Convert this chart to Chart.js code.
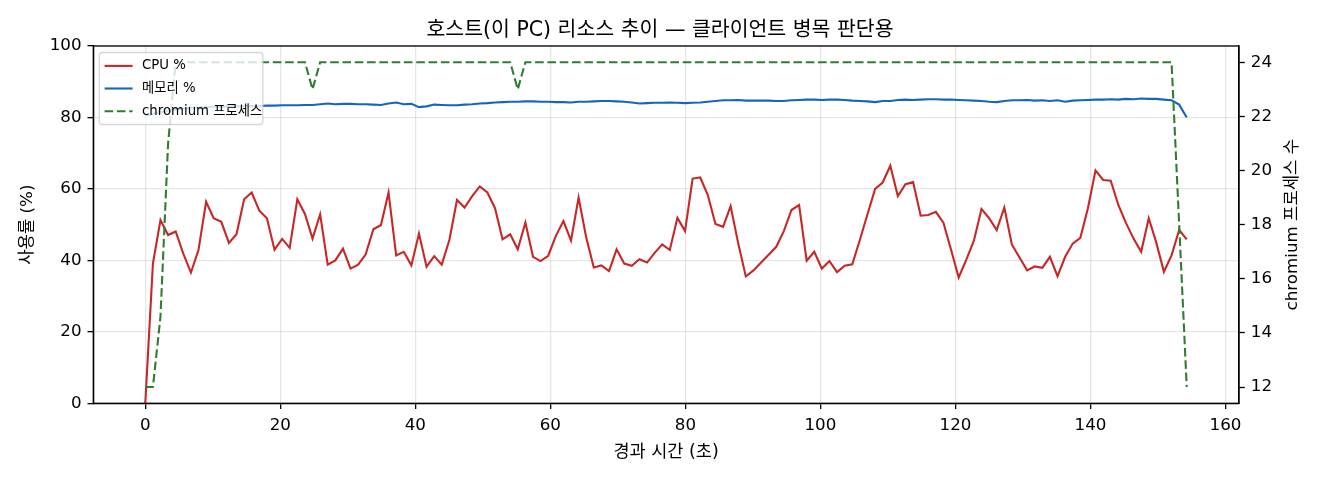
<!DOCTYPE html>
<html>
<head>
<meta charset="utf-8">
<script src="https://cdn.jsdelivr.net/npm/chart.js@4/dist/chart.umd.min.js"></script>
<style>
  html, body { margin: 0; padding: 0; background: #fff; }
  #wrap { width: 1320px; height: 480px; }
</style>
</head>
<body>
<div id="wrap"><canvas id="c" width="1320" height="480"></canvas></div>
<script>
// ---- data ----
const chartTitle = '호스트(이 PC) 리소스 추이 — 클라이언트 병목 판단용';
const xAxisLabel = '경과 시간 (초)';
const yAxisLabel = '사용률 (%)';
const y1AxisLabel = 'chromium 프로세스 수';
const seriesNames = ['CPU %', '메모리 %', 'chromium 프로세스'];

const times = [
  0, 1.13, 2.25, 3.38, 4.50, 5.63, 6.76, 7.88, 9.01, 10.13,
  11.26, 12.39, 13.51, 14.64, 15.76, 16.89, 18.02, 19.14, 20.27, 21.39,
  22.52, 23.65, 24.77, 25.90, 27.02, 28.15, 29.28, 30.40, 31.53, 32.65,
  33.78, 34.91, 36.03, 37.16, 38.28, 39.41, 40.54, 41.66, 42.79, 43.91,
  45.04, 46.17, 47.29, 48.42, 49.54, 50.67, 51.80, 52.92, 54.05, 55.17,
  56.30, 57.43, 58.55, 59.68, 60.80, 61.93, 63.06, 64.18, 65.31, 66.43,
  67.56, 68.69, 69.81, 70.94, 72.06, 73.19, 74.32, 75.44, 76.57, 77.69,
  78.82, 79.95, 81.07, 82.20, 83.32, 84.45, 85.58, 86.70, 87.83, 88.95,
  90.08, 91.21, 92.33, 93.46, 94.58, 95.71, 96.84, 97.96, 99.09, 100.21,
  101.34, 102.47, 103.59, 104.72, 105.84, 106.97, 108.10, 109.22, 110.35, 111.47,
  112.60, 113.73, 114.85, 115.98, 117.10, 118.23, 119.36, 120.48, 121.61, 122.73,
  123.86, 124.99, 126.11, 127.24, 128.36, 129.49, 130.62, 131.74, 132.87, 133.99,
  135.12, 136.25, 137.37, 138.50, 139.62, 140.75, 141.88, 143.00, 144.13, 145.25,
  146.38, 147.51, 148.63, 149.76, 150.88, 152.01, 153.14, 154.26
];

const cpuPct = [
  0, 39.1, 51.3, 47.1, 48.1, 41.9, 36.6, 42.9, 56.4, 51.8,
  50.8, 44.9, 47.3, 57.1, 59.0, 53.9, 51.8, 43.0, 46.0, 43.5,
  57.1, 53.0, 46.1, 52.9, 38.8, 40.0, 43.3, 37.7, 38.8, 41.7,
  48.7, 49.9, 59.0, 41.4, 42.4, 38.6, 47.5, 38.2, 41.2, 38.8,
  45.7, 56.9, 54.8, 58.0, 60.7, 59.0, 54.6, 45.9, 47.3, 43.1,
  50.6, 41.0, 39.8, 41.3, 46.8, 51.0, 45.5, 57.6, 46.4, 38.0,
  38.6, 37.0, 43.1, 39.1, 38.5, 40.3, 39.4, 42.1, 44.5, 42.9,
  51.9, 48.2, 62.9, 63.2, 58.3, 50.2, 49.4, 55.2, 44.7, 35.5,
  37.2, 39.4, 41.6, 43.8, 48.2, 54.1, 55.5, 39.9, 42.4, 37.7,
  39.8, 36.7, 38.5, 38.9, 45.7, 52.9, 60.0, 61.8, 66.5, 58.0,
  61.3, 61.9, 52.5, 52.7, 53.6, 50.5, 42.9, 35.2, 40.2, 45.5,
  54.4, 51.8, 48.5, 54.8, 44.4, 40.8, 37.2, 38.3, 37.9, 41.0,
  35.6, 41.0, 44.7, 46.3, 54.6, 65.2, 62.5, 62.3, 55.5, 50.5,
  46.1, 42.4, 51.8, 44.9, 36.8, 41.4, 48.5, 45.9
];

const memPct = [
  80.5, 81.0, 81.5, 81.9, 82.2, 82.5, 82.7, 82.8, 82.9, 83.0,
  83.0, 83.1, 83.1, 83.2, 83.2, 83.2, 83.3, 83.3, 83.4, 83.4,
  83.4, 83.5, 83.5, 83.7, 83.9, 83.7, 83.8, 83.8, 83.7, 83.7,
  83.6, 83.5, 83.9, 84.2, 83.7, 83.8, 82.9, 83.1, 83.6, 83.5,
  83.4, 83.4, 83.6, 83.7, 83.9, 84.0, 84.2, 84.3, 84.4, 84.4,
  84.5, 84.5, 84.4, 84.4, 84.3, 84.3, 84.2, 84.4, 84.4, 84.5,
  84.6, 84.6, 84.5, 84.4, 84.2, 83.9, 84.0, 84.1, 84.1, 84.2,
  84.1, 84.0, 84.1, 84.2, 84.4, 84.6, 84.8, 84.8, 84.9, 84.7,
  84.7, 84.7, 84.7, 84.6, 84.6, 84.8, 84.9, 85.0, 85.0, 84.9,
  85.0, 85.0, 84.9, 84.7, 84.6, 84.5, 84.3, 84.6, 84.6, 84.9,
  85.0, 84.9, 85.0, 85.1, 85.1, 85.0, 85.0, 84.9, 84.8, 84.7,
  84.6, 84.4, 84.3, 84.6, 84.8, 84.8, 84.9, 84.7, 84.8, 84.6,
  84.8, 84.4, 84.7, 84.8, 84.9, 85.0, 85.0, 85.1, 85.0, 85.2,
  85.1, 85.3, 85.2, 85.2, 85.0, 84.8, 83.6, 80.0
];

const procCount = [
  12, 12, 14.6, 21, 24, 24, 24, 24, 24, 24,
  24, 24, 24, 24, 24, 24, 24, 24, 24, 24,
  24, 24, 23, 24, 24, 24, 24, 24, 24, 24,
  24, 24, 24, 24, 24, 24, 24, 24, 24, 24,
  24, 24, 24, 24, 24, 24, 24, 24, 24, 23,
  24, 24, 24, 24, 24, 24, 24, 24, 24, 24,
  24, 24, 24, 24, 24, 24, 24, 24, 24, 24,
  24, 24, 24, 24, 24, 24, 24, 24, 24, 24,
  24, 24, 24, 24, 24, 24, 24, 24, 24, 24,
  24, 24, 24, 24, 24, 24, 24, 24, 24, 24,
  24, 24, 24, 24, 24, 24, 24, 24, 24, 24,
  24, 24, 24, 24, 24, 24, 24, 24, 24, 24,
  24, 24, 24, 24, 24, 24, 24, 24, 24, 24,
  24, 24, 24, 24, 24, 24, 18, 12
];

// ---- styling ----
const FONT = "'DejaVu Sans', 'Noto Sans CJK KR', sans-serif";
const colors = ['#c62828', '#1565c0', '#2e7d32'];
const LW = 2.1;
const DASH = [8.6, 3.7];
const GRID = 'rgba(176,176,176,0.32)';

const pts = (arr) => times.map((t, i) => ({ x: t, y: arr[i] }));

const framePlugin = {
  id: 'frameAndLegend',
  afterDatasetsDraw(chart) {
    const { ctx, chartArea: a } = chart;
    ctx.save();
    ctx.strokeStyle = '#000';
    ctx.lineWidth = 1.3;
    ctx.strokeRect(a.left, a.top, a.right - a.left, a.bottom - a.top);
    ctx.restore();
  },
  afterDraw(chart) {
    const { ctx, chartArea: a } = chart;
    // right axis title (rotated like matplotlib, reading bottom-to-top)
    ctx.save();
    ctx.fillStyle = '#000';
    ctx.font = `16.7px ${FONT}`;
    ctx.textAlign = 'center';
    ctx.textBaseline = 'middle';
    ctx.translate(1293, (a.top + a.bottom) / 2);
    ctx.rotate(-Math.PI / 2);
    ctx.fillText(y1AxisLabel, 0, 0);
    ctx.restore();

    // legend box (upper left inside plot)
    const bx = a.left + 6, by = a.top + 6.5, bw = 163.5, bh = 72, r = 3;
    ctx.save();
    ctx.beginPath();
    ctx.moveTo(bx + r, by);
    ctx.lineTo(bx + bw - r, by);
    ctx.quadraticCurveTo(bx + bw, by, bx + bw, by + r);
    ctx.lineTo(bx + bw, by + bh - r);
    ctx.quadraticCurveTo(bx + bw, by + bh, bx + bw - r, by + bh);
    ctx.lineTo(bx + r, by + bh);
    ctx.quadraticCurveTo(bx, by + bh, bx, by + bh - r);
    ctx.lineTo(bx, by + r);
    ctx.quadraticCurveTo(bx, by, bx + r, by);
    ctx.closePath();
    ctx.fillStyle = 'rgba(255,255,255,0.8)';
    ctx.fill();
    ctx.strokeStyle = 'rgba(204,204,204,0.8)';
    ctx.lineWidth = 1.3;
    ctx.stroke();

    ctx.font = `13.3px ${FONT}`;
    ctx.textBaseline = 'middle';
    ctx.textAlign = 'left';
    const rowY = [by + 13.4, by + 36, by + 58.7];
    seriesNames.forEach((name, i) => {
      ctx.beginPath();
      ctx.strokeStyle = colors[i];
      ctx.lineWidth = LW;
      ctx.setLineDash(i === 2 ? DASH : []);
      ctx.moveTo(bx + 5.3, rowY[i]);
      ctx.lineTo(bx + 33.3, rowY[i]);
      ctx.stroke();
      ctx.setLineDash([]);
      ctx.fillStyle = '#000';
      ctx.fillText(name, bx + 42.7, rowY[i]);
    });
    ctx.restore();
  }
};

new Chart(document.getElementById('c'), {
  type: 'line',
  data: {
    datasets: [
      { label: seriesNames[0], data: pts(cpuPct), yAxisID: 'y', borderColor: colors[0],
        borderWidth: LW, pointRadius: 0, tension: 0, fill: false, order: 2 },
      { label: seriesNames[1], data: pts(memPct), yAxisID: 'y', borderColor: colors[1],
        borderWidth: LW, pointRadius: 0, tension: 0, fill: false, order: 1 },
      { label: seriesNames[2], data: pts(procCount), yAxisID: 'y1', borderColor: colors[2],
        borderWidth: LW, borderDash: DASH, pointRadius: 0, tension: 0, fill: false, order: 0 }
    ]
  },
  options: {
    responsive: false,
    animation: false,
    devicePixelRatio: 1,
    layout: { padding: 0 },
    plugins: {
      legend: { display: false },
      tooltip: { enabled: false },
      title: {
        display: true, text: chartTitle, color: '#000',
        font: { family: FONT, size: 20.5, weight: 'normal' },
        padding: { top: 18, bottom: 3.4 }
      }
    },
    scales: {
      x: {
        type: 'linear', min: -7.7, max: 162.0,
        afterFit(s) { s.height = 76.7; },
        ticks: { stepSize: 20, includeBounds: false, color: '#000', padding: 7,
                 font: { family: FONT, size: 16.7 } },
        grid: { color: GRID, lineWidth: 1.3, tickColor: '#000', tickLength: 5.8, tickWidth: 1.3 },
        border: { display: true, color: '#000', width: 1.3 },
        title: { display: true, text: xAxisLabel, color: '#000',
                 font: { family: FONT, size: 17.5 }, padding: { top: 0, bottom: 17 } }
      },
      y: {
        type: 'linear', position: 'left', min: 0, max: 100,
        afterFit(s) { s.width = 93.3; },
        ticks: { stepSize: 20, color: '#000', padding: 6,
                 font: { family: FONT, size: 16.7 } },
        grid: { color: GRID, lineWidth: 1.3, tickColor: '#000', tickLength: 5.8, tickWidth: 1.3 },
        border: { display: true, color: '#000', width: 1.3 },
        title: { display: true, text: yAxisLabel, color: '#000',
                 font: { family: FONT, size: 16.7 }, padding: { top: 18, bottom: 0 } }
      },
      y1: {
        type: 'linear', position: 'right', min: 11.4, max: 24.6,
        afterFit(s) { s.width = 81; },
        ticks: { stepSize: 2, includeBounds: false, color: '#000', padding: 6,
                 font: { family: FONT, size: 16.7 } },
        grid: { drawOnChartArea: false, tickColor: '#000', tickLength: 5.8, tickWidth: 1.3 },
        border: { display: true, color: '#000', width: 1.3 },
        title: { display: false }
      }
    }
  },
  plugins: [framePlugin]
});
</script>
</body>
</html>
